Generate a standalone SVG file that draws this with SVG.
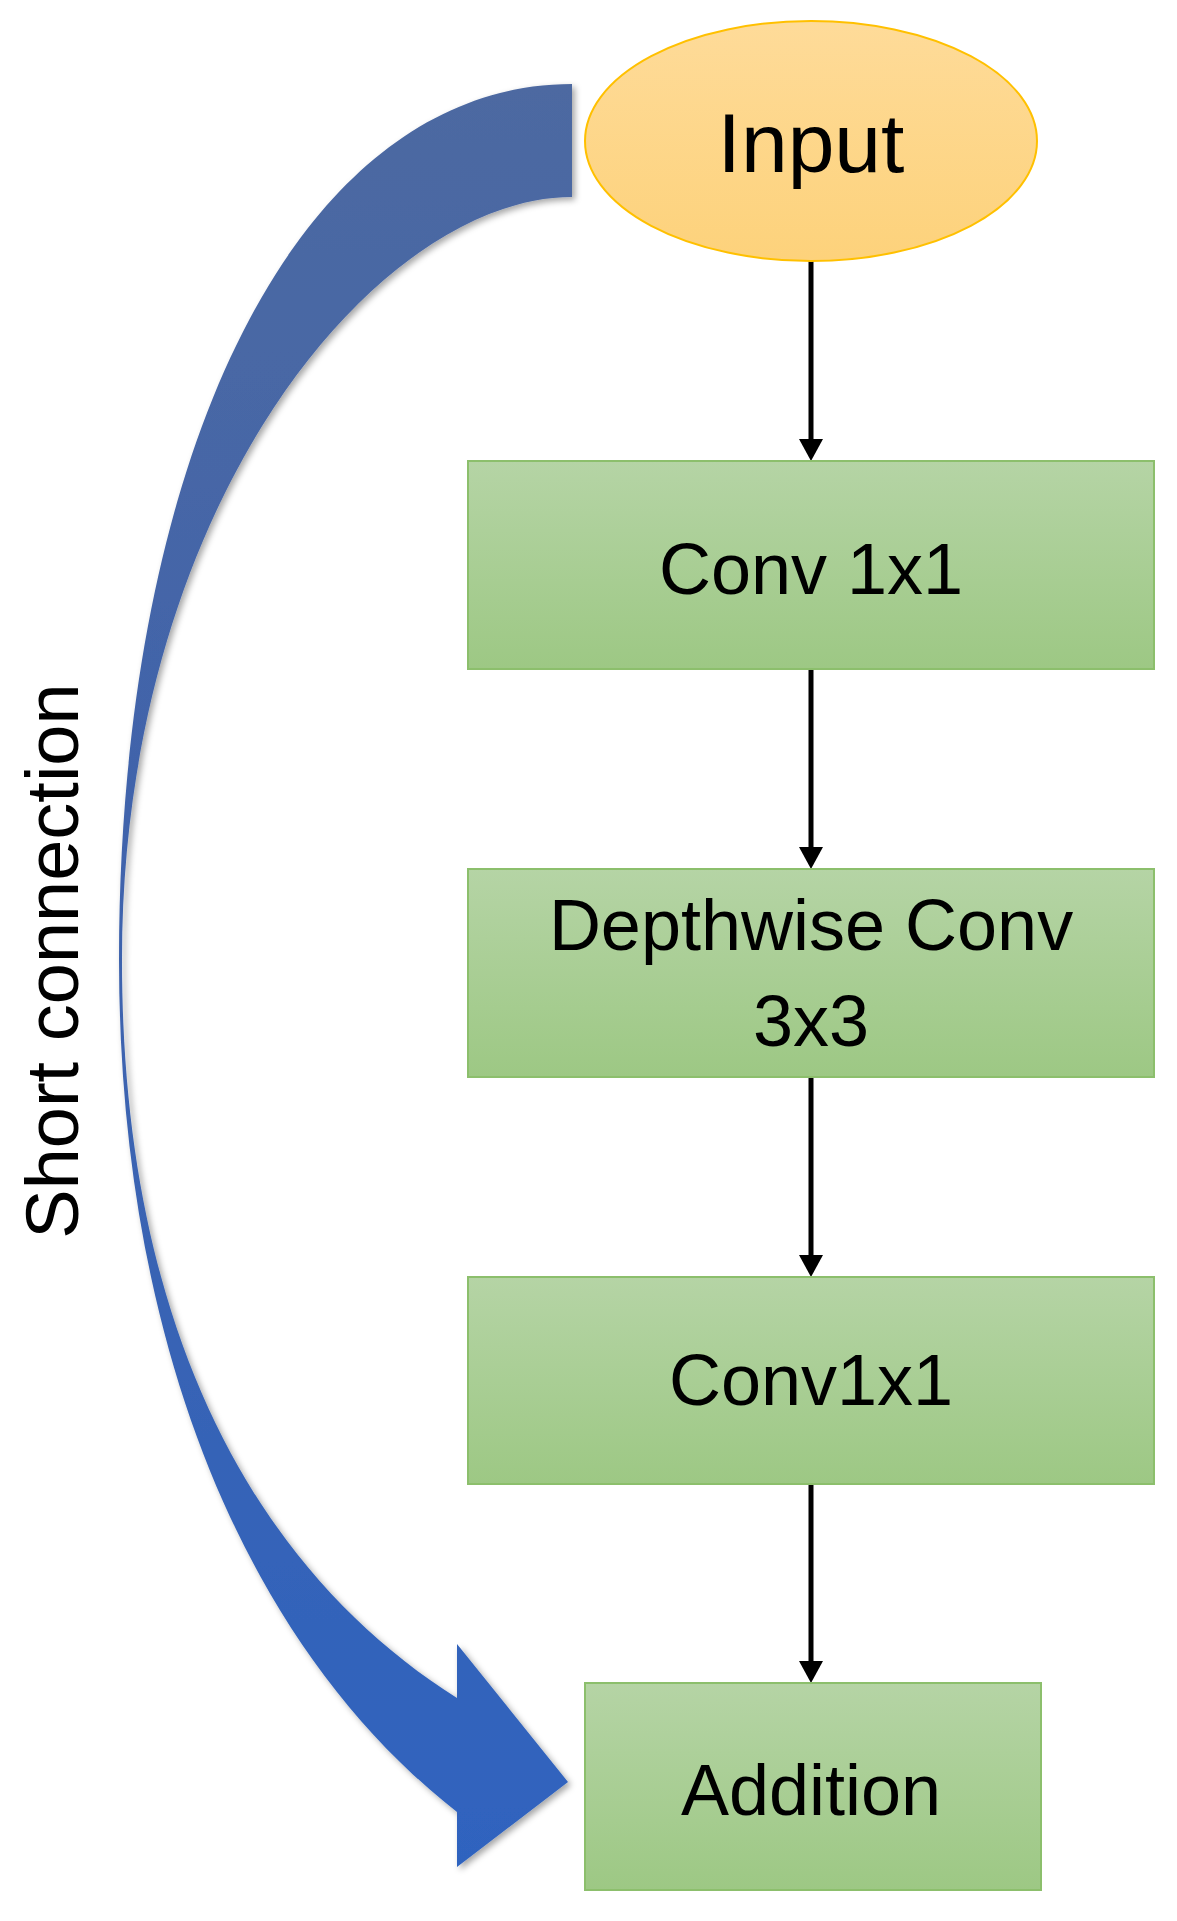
<svg xmlns="http://www.w3.org/2000/svg" width="1177" height="1921" viewBox="0 0 1177 1921">
  <defs>
    <linearGradient id="gBlue" x1="0" y1="0" x2="0" y2="1">
      <stop offset="0" stop-color="#4D69A1"/>
      <stop offset="0.45" stop-color="#3F63AC"/>
      <stop offset="1" stop-color="#2F63BF"/>
    </linearGradient>
    <linearGradient id="gGreen" x1="0" y1="0" x2="0" y2="1">
      <stop offset="0" stop-color="#B5D4A5"/>
      <stop offset="1" stop-color="#9DC884"/>
    </linearGradient>
    <linearGradient id="gOrange" x1="0" y1="0" x2="0" y2="1">
      <stop offset="0" stop-color="#FEDB99"/>
      <stop offset="1" stop-color="#FDD27B"/>
    </linearGradient>
    <filter id="shadow" x="-10%" y="-10%" width="130%" height="130%">
      <feDropShadow dx="3" dy="3" stdDeviation="3" flood-color="#000" flood-opacity="0.35"/>
    </filter>
    <marker id="arrowHead" markerUnits="userSpaceOnUse" markerWidth="24" markerHeight="24" refX="10" refY="12" orient="auto">
      <path d="M0,0 L22,12 L0,24 Z" fill="#000"/>
    </marker>
    <style>
      .box { fill: url(#gGreen); stroke: #8CBF6C; stroke-width: 2; }
      .lbl { font-family: "Liberation Sans", Arial, sans-serif; font-size: 72px; fill: #000; text-anchor: middle; }
      .conn { stroke: #000; stroke-width: 5; fill: none; marker-end: url(#arrowHead); }
    </style>
  </defs>
  <rect width="1177" height="1921" fill="#FFFFFF"/>

  <g id="short-connection">
    <path d="M572,84 C300,84 119,450 119,960 C119,1350 250,1650 457,1812 L457,1867 L568,1782 L457,1644 L457,1698 C270,1580 122,1350 122,960 C122,500 380,197 572,197 Z" fill="url(#gBlue)" filter="url(#shadow)"/>
    <text transform="translate(78,961) rotate(-90)" font-family="'Liberation Sans', Arial, sans-serif" font-size="74" fill="#000" text-anchor="middle">Short connection</text>
  </g>

  <g id="connectors">
    <line class="conn" x1="811" y1="261" x2="811" y2="449"/>
    <line class="conn" x1="811" y1="669" x2="811" y2="857"/>
    <line class="conn" x1="811" y1="1077" x2="811" y2="1265"/>
    <line class="conn" x1="811" y1="1484" x2="811" y2="1671"/>
  </g>

  <g id="node-input">
    <ellipse cx="811" cy="141" rx="226" ry="120" fill="url(#gOrange)" stroke="#FFC000" stroke-width="2"/>
    <text class="lbl" x="811" y="172" style="font-size:84px">Input</text>
  </g>

  <g id="node-conv1">
    <rect class="box" x="468" y="461" width="686" height="208"/>
    <text class="lbl" x="811" y="594">Conv 1x1</text>
  </g>

  <g id="node-depthwise">
    <rect class="box" x="468" y="869" width="686" height="208"/>
    <text class="lbl" x="811" y="950">Depthwise Conv</text>
    <text class="lbl" x="811" y="1046">3x3</text>
  </g>

  <g id="node-conv2">
    <rect class="box" x="468" y="1277" width="686" height="207"/>
    <text class="lbl" x="811" y="1405">Conv1x1</text>
  </g>

  <g id="node-addition">
    <rect class="box" x="585" y="1683" width="456" height="207"/>
    <text class="lbl" x="811" y="1815">Addition</text>
  </g>
</svg>
